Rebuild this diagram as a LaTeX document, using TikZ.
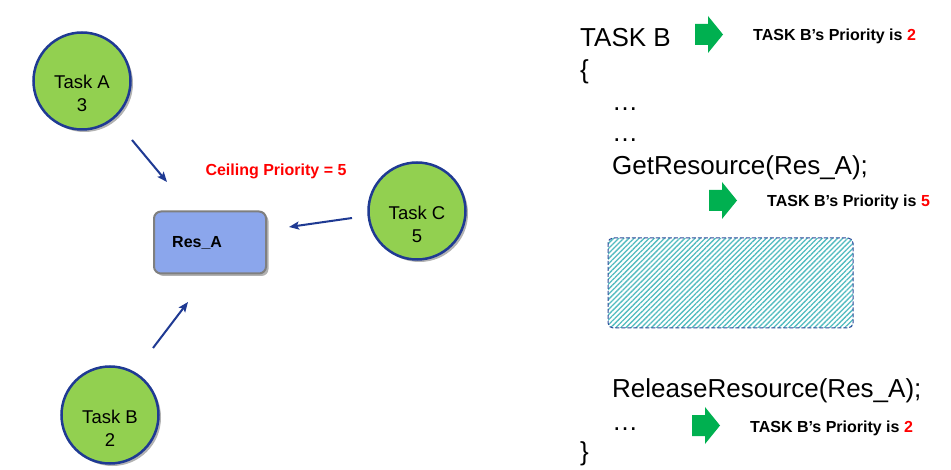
\documentclass[tikz,border=0pt]{standalone}
\usepackage{fontspec}
\setmainfont{Liberation Sans}
\usetikzlibrary{arrows.meta,shadows,patterns.meta}
\definecolor{taskgreen}{HTML}{92D050}
\definecolor{navy}{HTML}{1F3A93}
\definecolor{resblue}{HTML}{8BA6EC}
\definecolor{resgray}{HTML}{7F7F7F}
\definecolor{arrowgreen}{HTML}{00B050}
\definecolor{hatchteal}{HTML}{52BCC0}
\definecolor{dashblue}{HTML}{2E4B9B}
\definecolor{prred}{HTML}{FF0000}
\tikzset{
  task/.style={circle, minimum size=97pt, inner sep=0pt, fill=taskgreen, draw=navy, line width=2.5pt,
    drop shadow={shadow xshift=2.5pt, shadow yshift=-2.5pt, opacity=0.3, fill=black}},
  tasktext/.style={align=center, inner sep=0pt, font=\fontsize{18.5}{23}\selectfont},
  link/.style={draw=navy, line width=2pt, -{Stealth[length=10pt,width=8pt,inset=2pt]}},
  code/.style={anchor=base west, inner sep=0pt, font=\fontsize{26}{30}\selectfont},
  prio/.style={anchor=base west, inner sep=0pt, font=\bfseries\fontsize{16}{19}\selectfont},
  garrow/.pic={\fill[arrowgreen] (0,8) -- (13,8) -- (13,0) -- (28,18.5) -- (13,37) -- (13,29) -- (0,29) -- cycle;}
}
\begin{document}
\begin{tikzpicture}[x=1pt,y=-1pt]
\path[use as bounding box, fill=white] (0,0) rectangle (951,470);

% tasks
\node[task] (taskA) at (82,81) {};
\node[tasktext] (taskAt) at (82,93) {Task A\\3};
\node[task] (taskC) at (417,211) {};
\node[tasktext] (taskCt) at (417,224) {Task C\\5};
\node[task] (taskB) at (110,415) {};
\node[tasktext] (taskBt) at (110,428) {Task B\\2};

% resource
\node[draw=resgray, fill=resblue, line width=2pt, rounded corners=7pt, minimum width=112pt, minimum height=62pt, inner sep=0pt,
  drop shadow={shadow xshift=2.5pt, shadow yshift=-2.5pt, opacity=0.3, fill=black}] (res) at (210,242.5) {};
\node[anchor=west, inner sep=0pt, font=\bfseries\fontsize{16}{19}\selectfont] (rest) at (172,243) {Res\_A};

\node[inner sep=0pt, text=prred, font=\bfseries\fontsize{16}{19}\selectfont] (ceil) at (276,171) {Ceiling Priority = 5};

% connectors
\coordinate (a1) at (132,140); \coordinate (a2) at (167,182);
\coordinate (c1) at (352,218); \coordinate (c2) at (289,227);
\coordinate (b1) at (153,348); \coordinate (b2) at (188,302);
\draw[link] (a1) -- (a2);
\draw[link] (c1) -- (c2);
\draw[link] (b1) -- (b2);

% code
\node[code] (l1) at (580,47) {TASK B};
\node[code] (l2) at (580,79) {\{};
\node[code] (l3) at (612,111) {…};
\node[code] (l4) at (612,142) {…};
\node[code] (l5) at (612,175) {GetResource(Res\_A);};
\node[code] (l6) at (612,398) {ReleaseResource(Res\_A);};
\node[code] (l7) at (612,430) {…};
\node[code] (l8) at (580,460) {\}};

% green arrows
\pic at (695,16) {garrow};
\pic at (709,182) {garrow};
\pic at (692,407) {garrow};

% priority labels
\node[prio] (p1) at (753,41) {TASK B’s Priority is \textcolor{prred}{2}};
\node[prio] (p2) at (767,207) {TASK B’s Priority is \textcolor{prred}{5}};
\node[prio] (p3) at (750,432) {TASK B’s Priority is \textcolor{prred}{2}};

% hatched critical section
\path[pattern={Lines[angle=45,distance=3.6pt,line width=1.3pt]}, pattern color=hatchteal, rounded corners=5pt] (608,238) rectangle (853,328);
\draw[dashblue, line width=1pt, dash pattern=on 4pt off 2pt, rounded corners=5pt] (608,238) rectangle (853,328);
\end{tikzpicture}
\end{document}
